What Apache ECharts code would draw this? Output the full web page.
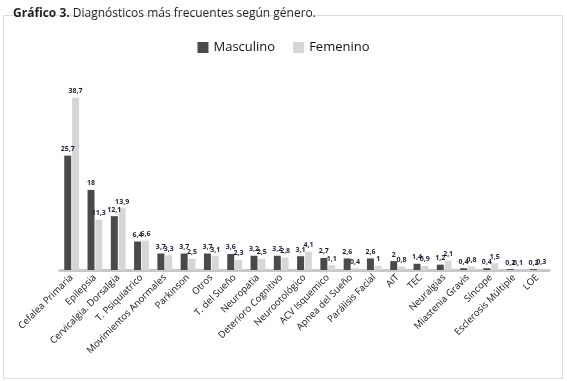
<!DOCTYPE html>
<html>
<head>
<meta charset="utf-8">
<script src="https://cdn.jsdelivr.net/npm/echarts@6/dist/echarts.min.js"></script>
<style>
  html, body { margin: 0; padding: 0; background: #fff; }
  #chart { width: 567px; height: 381px; }
</style>
</head>
<body>
<div id="chart"></div>
<script>
// Diagnósticos más frecuentes según género (%)
const categories = ['Cefalea Primaria', 'Epilepsia', 'Cervicalgia. Dorsalgia', 'T. Psiquiatrico',
    'Movimientos Anormales', 'Parkinson', 'Otros', 'T. del Sueño', 'Neuropatia',
    'Deterioro Cognitivo', 'Neurootológico', 'ACV Isquemico', 'Apnea del Sueño',
    'Parálisis Facial', 'AIT', 'TEC', 'Neuralgias', 'Miastenia Gravis', 'Síncope',
    'Esclerosis Múltiple', 'LOE']
const masculino = [25.7, 18, 12.1, 6.4, 3.7, 3.7, 3.7, 3.6, 3.2, 3.2, 3.1, 2.7, 2.6, 2.6, 2, 1.4, 1.2, 0.4, 0.4, 0.2, 0.2]
const femenino = [38.7, 11.3, 13.9, 6.6, 3.3, 2.5, 3.1, 2.3, 2.5, 2.8, 4.1, 1.1, 0.4, 1, 0.8, 0.9, 2.1, 0.8, 1.5, 0.1, 0.3]

const font = '"Open Sans", "Noto Sans", sans-serif'
const chart = echarts.init(document.getElementById('chart'))

// etiqueta con coma decimal
const valueLabel = {
    show: true,
    position: 'top',
    distance: 3,
    color: '#1f1f3a',
    fontSize: 7,
    fontWeight: 'bold',
    fontFamily: font,
    formatter: (p) => String(p.value).replace('.', ',')
}

chart.setOption({
    animation: false,
    title: {
        text: '{b|Gráfico 3.} Diagnósticos más frecuentes según género.',
        left: 8,
        top: 3,
        textStyle: {
            fontFamily: font,
            fontSize: 12,
            fontWeight: 'normal',
            color: '#231f20',
            rich: {
                b: { fontFamily: font, fontSize: 12, fontWeight: 'bold', color: '#231f20' }
            }
        }
    },
    graphic: [{
        type: 'rect',
        shape: { x: 3.5, y: 15.5, width: 559, height: 363 },
        style: { fill: 'none', stroke: '#dcdcdc', lineWidth: 1 },
        silent: true
    }],
    legend: {
        top: 36,
        left: 'center',
        itemWidth: 11,
        itemHeight: 11,
        itemGap: 18,
        icon: 'rect',
        textStyle: { fontFamily: font, fontSize: 13, color: '#111' },
        data: ['Masculino', 'Femenino']
    },
    grid: { left: 60, right: 18, top: 92, bottom: 111 },
    xAxis: {
        type: 'category',
        data: categories,
        axisLine: { lineStyle: { color: '#c8c8c8', width: 3 } },
        axisTick: { show: false },
        axisLabel: {
            interval: 0,
            rotate: 45,
            margin: 6,
            fontFamily: font,
            fontSize: 9.5,
            color: '#111'
        }
    },
    yAxis: {
        type: 'value',
        min: 0,
        max: 40,
        show: false
    },
    series: [
        {
            name: 'Masculino',
            type: 'bar',
            data: masculino,
            barWidth: '30%',
            barGap: '12%',
            itemStyle: { color: '#4a4a4a' },
            label: valueLabel
        },
        {
            name: 'Femenino',
            type: 'bar',
            data: femenino,
            barWidth: '30%',
            itemStyle: { color: '#d6d6d6' },
            label: valueLabel
        }
    ]
})
</script>
</body>
</html>
